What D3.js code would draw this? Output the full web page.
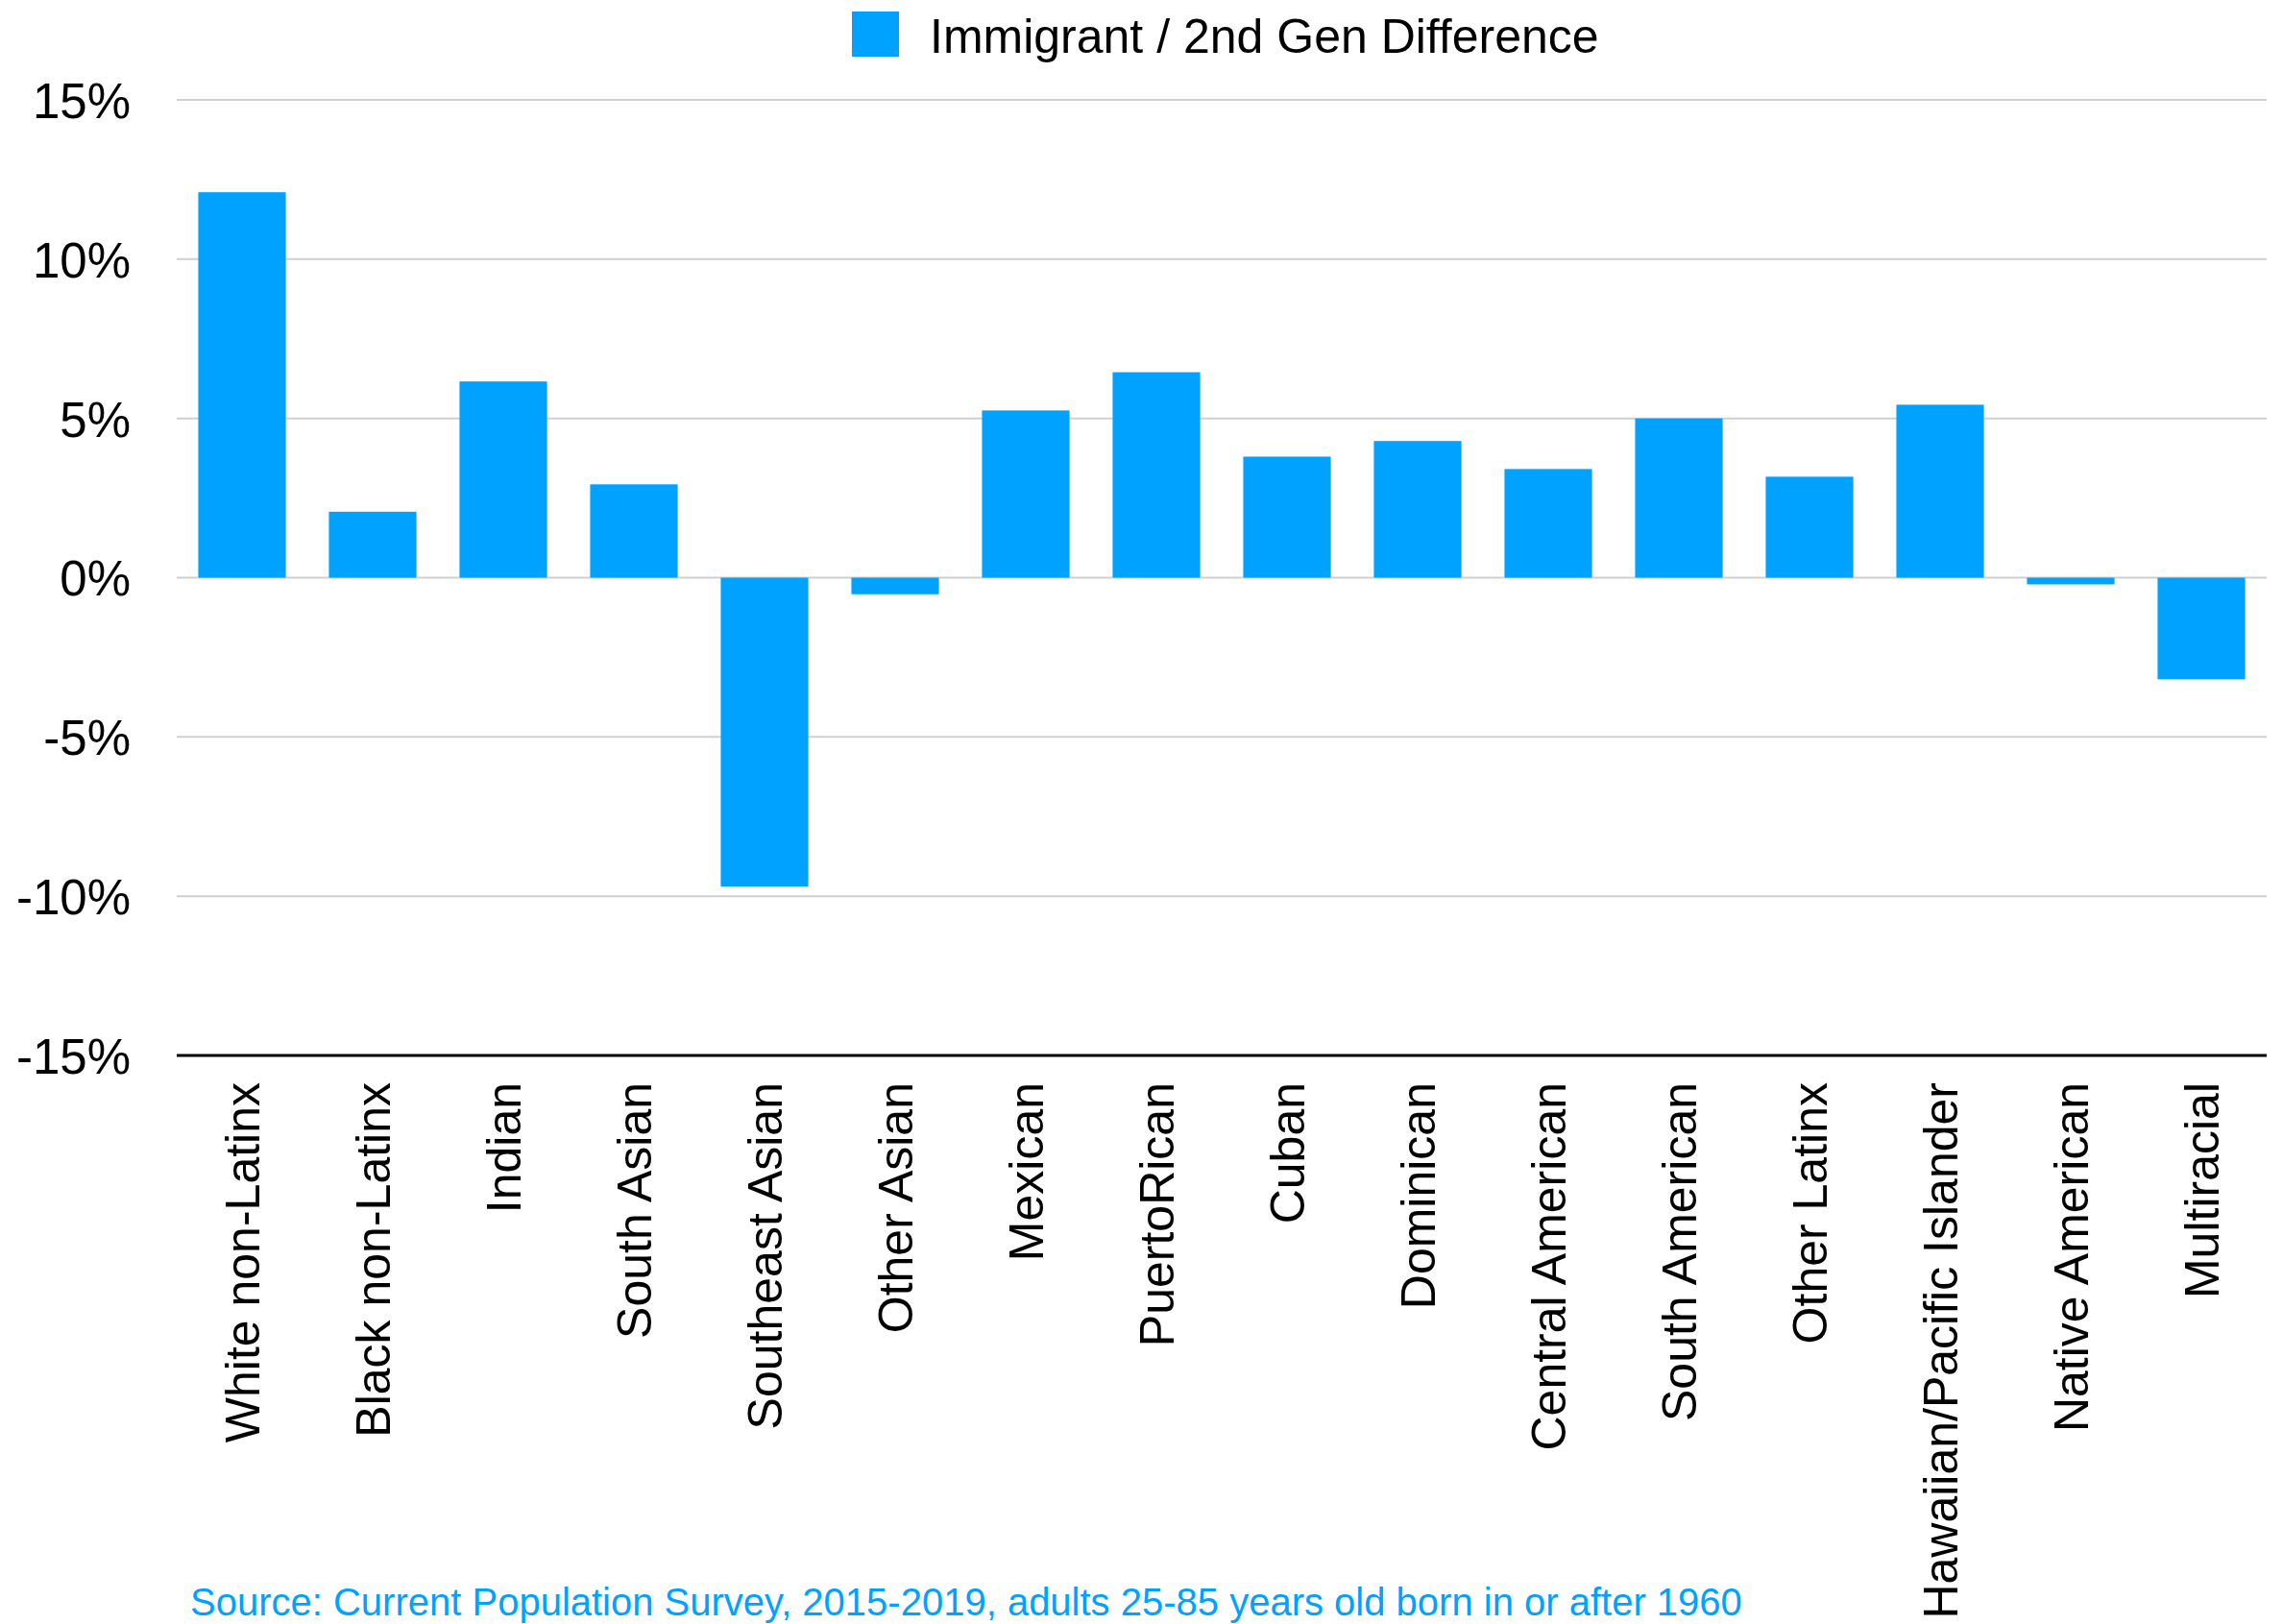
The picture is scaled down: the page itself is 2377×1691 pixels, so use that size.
<!DOCTYPE html>
<html>
<head>
<meta charset="utf-8">
<script src="https://cdn.jsdelivr.net/npm/d3@7"></script>
<style>
  body { margin: 0; background: #fff; }
  svg { display: block; font-family: "Liberation Sans", Helvetica, Arial, sans-serif; }
</style>
</head>
<body>
<div id="chart"></div>
<script>
"use strict"

// data
const groups = ["White non-Latinx", "Black non-Latinx", "Indian", "South Asian", "Southeast Asian",
  "Other Asian", "Mexican", "PuertoRican", "Cuban", "Dominican", "Central American",
  "South American", "Other Latinx", "Hawaiian/Pacific Islander", "Native American", "Multiracial"];
const diff = [12.1, 2.07, 6.16, 2.93, -9.7, -0.52, 5.25, 6.45, 3.8, 4.29, 3.41, 5.0, 3.17, 5.43, -0.21, -3.19];
const yTicks = [-15, -10, -5, 0, 5, 10, 15];
const seriesName = "Immigrant / 2nd Gen Difference";
const sourceNote = "Source: Current Population Survey, 2015-2019, adults 25-85 years old born in or after 1960";

const width = 2377,
  height = 1691,
  margin = { top: 104, bottom: 592, left: 184, right: 17 };

const blue = "#00A2FF";

const svg = d3.select("#chart")
  .append("svg")
  .attr("width", width)
  .attr("height", height);

const x = d3.scaleBand()
  .domain(groups)
  .range([margin.left, width - margin.right])
  .paddingInner(0.33)
  .paddingOuter(0.165);

const y = d3.scaleLinear()
  .domain([-15, 15])
  .range([height - margin.bottom, margin.top]);

// gridlines
svg.append("g")
  .selectAll("line")
  .data(yTicks.filter(d => d !== -15))
  .join("line")
    .attr("x1", margin.left)
    .attr("x2", width - margin.right)
    .attr("y1", d => y(d))
    .attr("y2", d => y(d))
    .attr("stroke", "#cfcfcf")
    .attr("stroke-width", 2);

// y labels
svg.append("g")
  .attr("text-anchor", "end")
  .style("font-size", "51px")
  .selectAll("text")
  .data(yTicks)
  .join("text")
    .attr("x", 136)
    .attr("y", d => y(d))
    .attr("dy", "0.37em")
    .text(d => d + "%");

// bars
svg.append("g")
  .selectAll("rect")
  .data(diff)
  .join("rect")
    .attr("x", (d, i) => x(groups[i]))
    .attr("width", x.bandwidth())
    .attr("y", d => y(Math.max(0, d)))
    .attr("height", d => Math.abs(y(d) - y(0)))
    .attr("fill", blue);

// bottom axis line
svg.append("line")
  .attr("x1", margin.left)
  .attr("x2", width - margin.right)
  .attr("y1", y(-15))
  .attr("y2", y(-15))
  .attr("stroke", "#000")
  .attr("stroke-width", 3);

// category labels, rotated
svg.append("g")
  .style("font-size", "50px")
  .attr("text-anchor", "end")
  .selectAll("text")
  .data(groups)
  .join("text")
    .attr("transform", d => `translate(${x(d) + x.bandwidth() / 2},${y(-15) + 28}) rotate(-90)`)
    .attr("dy", "0.36em")
    .text(d => d);

// legend
const legend = svg.append("g");
legend.append("rect")
  .attr("x", 887)
  .attr("y", 12)
  .attr("width", 49)
  .attr("height", 47)
  .attr("fill", blue);
legend.append("text")
  .attr("x", 968)
  .attr("y", 37)
  .attr("dy", "0.36em")
  .style("font-size", "50px")
  .text(seriesName);

// source note
svg.append("text")
  .attr("x", 198)
  .attr("y", 1682)
  .style("font-size", "40px")
  .attr("fill", blue)
  .text(sourceNote);
</script>
</body>
</html>
